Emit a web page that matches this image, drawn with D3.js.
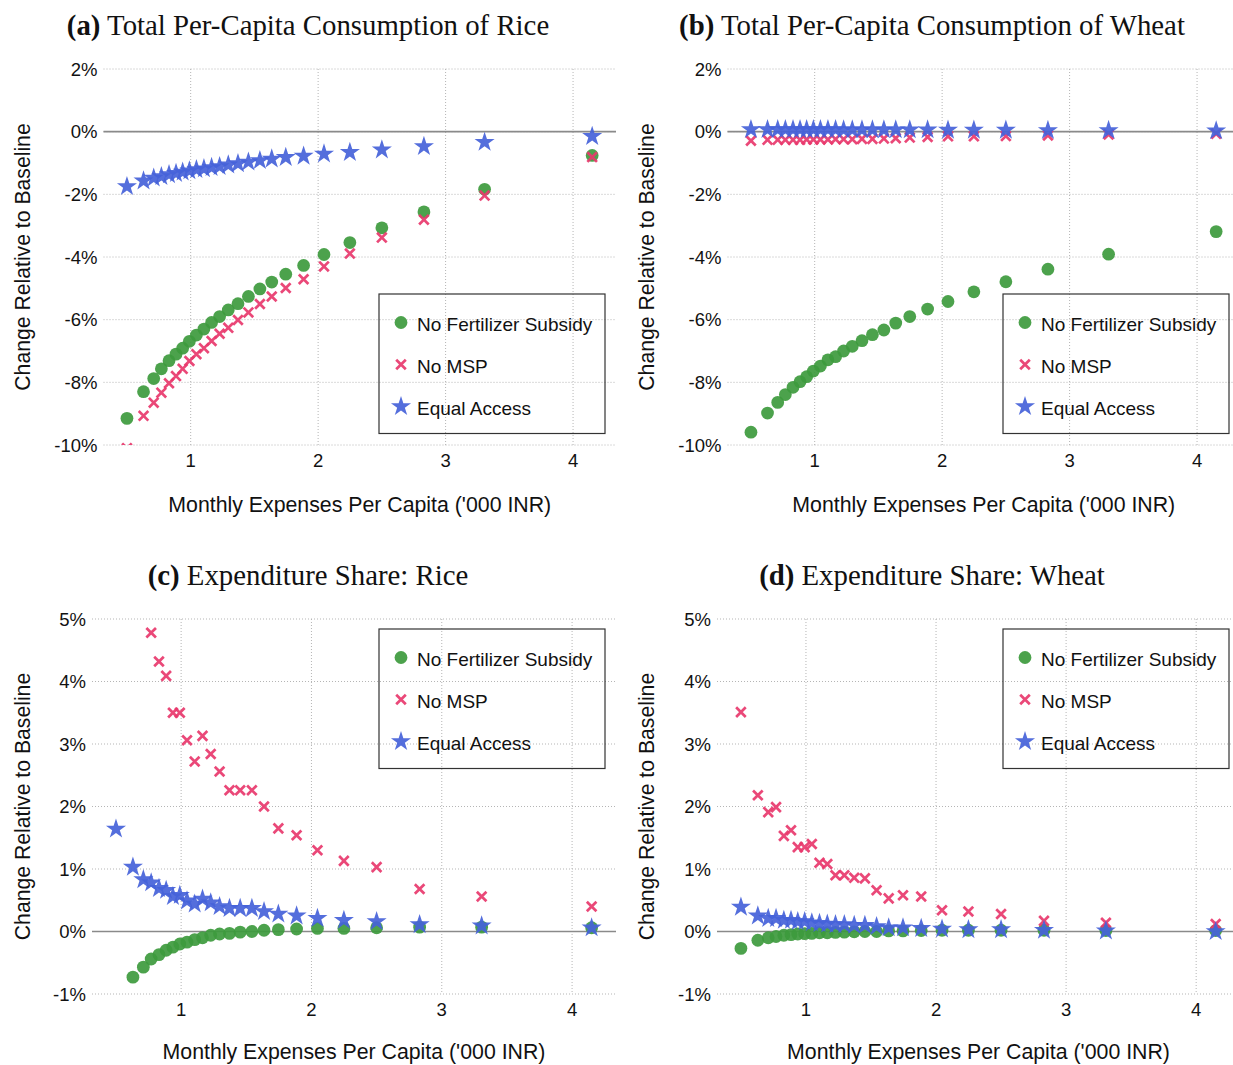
<!DOCTYPE html>
<meta charset="utf-8">
<script src="https://d3js.org/d3.v7.min.js"></script>
<style>
  body { margin: 0; background: #fff; }
  text { font-family: "Liberation Sans", Arial, sans-serif; fill: #111; }
  .title text, text.title { font-family: "Liberation Serif", "Times New Roman", serif; }
</style>
<svg width="1233" height="1065"></svg>
<script>

// monthly expenses per capita ('000 INR), shared by all four panels
const expense = [0.50, 0.63, 0.71, 0.77, 0.83, 0.885, 0.937, 0.99, 1.045, 1.104, 1.164, 1.227,
  1.295, 1.371, 1.453, 1.543, 1.636, 1.746, 1.886, 2.046, 2.249, 2.50, 2.83, 3.306, 4.15];

const seriesNames = ['No Fertilizer Subsidy', 'No MSP', 'Equal Access'];

// (a) total per-capita consumption of rice, % change
const riceConsFert = [-9.15, -8.30, -7.88, -7.57, -7.31, -7.10, -6.91, -6.69, -6.49, -6.30, -6.09, -5.90,
  -5.69, -5.49, -5.26, -5.02, -4.80, -4.55, -4.27, -3.92, -3.54, -3.07, -2.56, -1.84, -0.76];
const riceConsMsp = [-10.1, -9.07, -8.65, -8.33, -8.03, -7.80, -7.57, -7.32, -7.10, -6.91, -6.68, -6.45,
  -6.26, -6.01, -5.77, -5.50, -5.26, -4.99, -4.71, -4.30, -3.89, -3.38, -2.81, -2.04, -0.81];
const riceConsEqual = [-1.75, -1.57, -1.48, -1.43, -1.37, -1.33, -1.29, -1.25, -1.21, -1.18, -1.14, -1.11,
  -1.06, -1.02, -0.97, -0.92, -0.87, -0.82, -0.78, -0.71, -0.66, -0.58, -0.47, -0.34, -0.15];

// (b) total per-capita consumption of wheat
const wheatConsFert = [-9.59, -8.98, -8.64, -8.39, -8.16, -7.98, -7.82, -7.64, -7.48, -7.28, -7.18, -7.00,
  -6.85, -6.67, -6.48, -6.33, -6.11, -5.90, -5.66, -5.42, -5.11, -4.79, -4.39, -3.91, -3.19];
const wheatConsMsp = [-0.29, -0.26, -0.26, -0.26, -0.26, -0.26, -0.25, -0.25, -0.25, -0.25, -0.24, -0.24,
  -0.24, -0.23, -0.23, -0.22, -0.21, -0.19, -0.17, -0.15, -0.15, -0.14, -0.12, -0.09, -0.07];
const wheatConsEqual = [0.07, 0.07, 0.07, 0.07, 0.07, 0.07, 0.07, 0.07, 0.07, 0.07, 0.07, 0.06,
  0.06, 0.06, 0.06, 0.06, 0.06, 0.06, 0.06, 0.05, 0.05, 0.05, 0.04, 0.04, 0.03];

// (c) expenditure share: rice (null = outside the plotted range)
const riceShareFert = [null, -0.73, -0.57, -0.44, -0.37, -0.30, -0.25, -0.20, -0.17, -0.13, -0.10, -0.06,
  -0.04, -0.03, -0.01, 0.00, 0.02, 0.03, 0.04, 0.05, 0.05, 0.06, 0.07, 0.07, 0.06];
const riceShareMsp = [null, null, null, 4.78, 4.32, 4.09, 3.50, 3.50, 3.06, 2.72, 3.13, 2.84,
  2.56, 2.26, 2.26, 2.26, 2.00, 1.65, 1.54, 1.30, 1.13, 1.03, 0.68, 0.56, 0.40];
const riceShareEqual = [1.64, 1.03, 0.83, 0.78, 0.69, 0.66, 0.56, 0.58, 0.49, 0.44, 0.52, 0.46,
  0.40, 0.37, 0.37, 0.37, 0.32, 0.28, 0.25, 0.21, 0.18, 0.16, 0.11, 0.09, 0.06];

// (d) expenditure share: wheat
const wheatShareFert = [-0.27, -0.14, -0.10, -0.08, -0.06, -0.05, -0.04, -0.035, -0.03, -0.02, -0.02, -0.015,
  -0.01, -0.005, 0.0, 0.0, 0.01, 0.01, 0.015, 0.02, 0.02, 0.02, 0.02, 0.015, 0.015];
const wheatShareMsp = [3.51, 2.18, 1.91, 1.99, 1.53, 1.62, 1.35, 1.35, 1.40, 1.10, 1.08, 0.90,
  0.90, 0.86, 0.85, 0.66, 0.53, 0.58, 0.56, 0.34, 0.32, 0.28, 0.17, 0.14, 0.12];
const wheatShareEqual = [0.39, 0.25, 0.21, 0.21, 0.18, 0.18, 0.16, 0.16, 0.14, 0.13, 0.12, 0.11,
  0.11, 0.10, 0.10, 0.08, 0.06, 0.06, 0.05, 0.04, 0.03, 0.03, 0.02, 0.01, 0.00];

const xTicks = [1, 2, 3, 4];
const consTicks = [-10, -8, -6, -4, -2, 0, 2];
const shareTicks = [-1, 0, 1, 2, 3, 4, 5];

const colors = ['#3d9a3d', '#e8386c', '#4562d9'];
const xDomain = [0.316, 4.337];

var panels = [
  {tag: '(a)', title: ' Total Per-Capita Consumption of Rice', cx: 308, ty: 35,
   left: 103.5, right: 616, top: 69, bottom: 445, yDom: [-10, 2], yTicks: consTicks,
   series: [riceConsFert, riceConsMsp, riceConsEqual], legTop: 294, ylabX: 30, xlabY: 512},
  {tag: '(b)', title: ' Total Per-Capita Consumption of Wheat', cx: 932, ty: 35,
   left: 727.5, right: 1240, top: 69, bottom: 445, yDom: [-10, 2], yTicks: consTicks,
   series: [wheatConsFert, wheatConsMsp, wheatConsEqual], legTop: 294, ylabX: 654, xlabY: 512},
  {tag: '(c)', title: ' Expenditure Share: Rice', cx: 308, ty: 585,
   left: 92, right: 616, top: 619, bottom: 994, yDom: [-1, 5], yTicks: shareTicks,
   series: [riceShareFert, riceShareMsp, riceShareEqual], legTop: 629, ylabX: 30, xlabY: 1059},
  {tag: '(d)', title: ' Expenditure Share: Wheat', cx: 932, ty: 585,
   left: 717, right: 1240, top: 619, bottom: 994, yDom: [-1, 5], yTicks: shareTicks,
   series: [wheatShareFert, wheatShareMsp, wheatShareEqual], legTop: 629, ylabX: 654, xlabY: 1059}
];

var svg = d3.select('svg');

var star = d3.symbol().type(d3.symbolStar).size(125);
var circle = d3.symbol().type(d3.symbolCircle).size(128);
var cross = 'M-4.8,-4.8L4.8,4.8M-4.8,4.8L4.8,-4.8';

function drawMarker(g, k, x, y) {
  if (k === 0) {
    g.append('path').attr('d', circle()).attr('transform', 'translate(' + x + ',' + y + ')')
      .style('fill', colors[0]).style('opacity', 0.92);
  } else if (k === 1) {
    g.append('path').attr('d', cross).attr('transform', 'translate(' + x + ',' + y + ')')
      .style('fill', 'none').style('stroke', colors[1]).style('stroke-width', 2.7).style('opacity', 0.92);
  } else {
    g.append('path').attr('d', star()).attr('transform', 'translate(' + x + ',' + y + ')')
      .style('fill', colors[2]).style('opacity', 0.92);
  }
}

panels.forEach(function(p, i) {
  var x = d3.scaleLinear().domain(xDomain).range([p.left, p.right]);
  var y = d3.scaleLinear().domain(p.yDom).range([p.bottom, p.top]);
  var g = svg.append('g');

  // title
  var t = g.append('text').attr('class', 'title').attr('x', p.cx).attr('y', p.ty)
    .attr('text-anchor', 'middle').style('font-size', '28.8px');
  t.append('tspan').style('font-weight', 'bold').text(p.tag);
  t.append('tspan').text(p.title);

  // grid
  g.append('g').selectAll('line').data(p.yTicks).enter().append('line')
    .attr('x1', p.left).attr('x2', p.right)
    .attr('y1', function(d) { return y(d); }).attr('y2', function(d) { return y(d); })
    .style('stroke', '#b5b5b5').style('stroke-width', 1).style('stroke-dasharray', '1,2');
  g.append('g').selectAll('line').data(xTicks).enter().append('line')
    .attr('x1', function(d) { return x(d); }).attr('x2', function(d) { return x(d); })
    .attr('y1', p.top).attr('y2', p.bottom)
    .style('stroke', '#b5b5b5').style('stroke-width', 1).style('stroke-dasharray', '1,2');

  // zero line
  g.append('line').attr('x1', p.left).attr('x2', p.right).attr('y1', y(0)).attr('y2', y(0))
    .style('stroke', '#8a8a8a').style('stroke-width', 1.6);

  // y tick labels
  g.append('g').selectAll('text').data(p.yTicks).enter().append('text')
    .attr('x', p.left - 6).attr('y', function(d) { return y(d) + 6.5; })
    .attr('text-anchor', 'end').style('font-size', '18.5px')
    .text(function(d) { return d + '%'; });

  // x tick labels
  g.append('g').selectAll('text').data(xTicks).enter().append('text')
    .attr('x', function(d) { return x(d); }).attr('y', p.bottom + 22)
    .attr('text-anchor', 'middle').style('font-size', '18.5px')
    .text(function(d) { return d; });

  // axis labels
  g.append('text').attr('transform', 'translate(' + p.ylabX + ',' + ((p.top + p.bottom) / 2) + ') rotate(-90)')
    .attr('text-anchor', 'middle').style('font-size', '21.2px').text('Change Relative to Baseline');
  g.append('text').attr('x', (p.left + p.right) / 2).attr('y', p.xlabY)
    .attr('text-anchor', 'middle').style('font-size', '21.3px').text("Monthly Expenses Per Capita ('000 INR)");

  // points, clipped to the plot area
  svg.append('clipPath').attr('id', 'clip' + i).append('rect')
    .attr('x', p.left).attr('y', p.top).attr('width', p.right - p.left).attr('height', p.bottom - p.top);
  var pts = g.append('g').attr('clip-path', 'url(#clip' + i + ')');
  p.series.forEach(function(vals, k) {
    var sg = pts.append('g');
    vals.forEach(function(v, j) {
      if (v === null) return;
      drawMarker(sg, k, x(expense[j]), y(v));
    });
  });

  // legend
  var lx = p.right - 11 - 226;
  var leg = g.append('g');
  leg.append('rect').attr('x', lx).attr('y', p.legTop).attr('width', 226).attr('height', 139.5)
    .style('fill', 'none').style('stroke', '#333').style('stroke-width', 1.2);
  seriesNames.forEach(function(name, k) {
    var cy = p.legTop + 28.5 + k * 42;
    drawMarker(leg, k, lx + 22, cy);
    leg.append('text').attr('x', lx + 38).attr('y', cy + 8).style('font-size', '19px').text(name);
  });
});

</script>
